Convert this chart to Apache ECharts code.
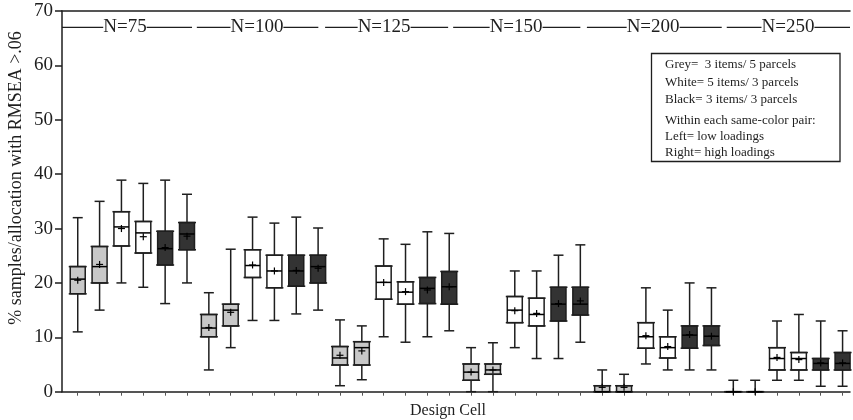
<!DOCTYPE html>
<html><head><meta charset="utf-8">
<script src="https://cdn.jsdelivr.net/npm/echarts@6/dist/echarts.min.js"></script>
<style>html,body{margin:0;padding:0;background:#fff}#c{width:853px;height:420px}</style>
</head><body><div id="c"></div>
<script>
// ---- data ----
const sampleSizes = ['N=75','N=100','N=125','N=150','N=200','N=250'];
const groupLineStart = [0.28, 6.45, 12.32, 18.18, 24.3, 30.7];
const groupLineEnd   = [6.23, 12.01, 17.95, 24.0, 30.47, 36.34];
const groupLabelPos  = [3.16, 9.2, 15.02, 21.06, 27.33, 33.5];
const cellPositions = [1,2,3,4,5,6,7,8,9,10,11,12,13,14,15,16,17,18,19,20,21,22,23,24,25,26,27,28,29,30,31,32,33,34,35,36];
const cellColours = ['grey','grey','white','white','black','black'];
const whiskerLow  = [11,15,20,19.2,16.2,20, 4,8.1,13.1,13.1,14.3,15, 1.1,2.2,10.1,9.1,10.1,11.2, 0,0,8.1,6.1,6.1,9.1, 0,0,5.1,4,4,4, 0,0,2.1,2.1,1,1];
const quartile1   = [18,20,26.8,25.5,23.3,26.1, 10.1,12.1,21,19.1,19.4,20, 4.9,4.9,17,16.1,16.2,16.1, 2.1,3.2,12.7,12.1,13,14.1, 0,0,8,6.2,8,8.5, 0,0,4,4,4,4];
const medians     = [20.7,23,30.3,29.2,26.3,29, 11.7,15,23.2,22.2,22.2,23, 6.2,8.1,20.1,18.3,19,19.3, 3.6,4,15,14.2,16.1,16.1, 0,0,10.1,8.1,10.4,10.2, 0,0,6.1,6.1,5.2,5.2];
const quartile3   = [23,26.7,33.1,31.3,29.5,31.1, 14.2,16.1,26.1,25.1,25.1,25.1, 8.3,9.2,23.1,20.2,21,22.1, 5.1,5.1,17.5,17.2,19.2,19.2, 1.1,1.1,12.7,10.1,12.1,12.1, 0,0,8.1,7.2,6.1,7.2];
const whiskerHigh = [32,35,38.9,38.3,38.9,36.3, 18.2,26.2,32.1,31,32.1,30.1, 13.2,12.1,28.1,27.1,29.4,29.1, 8.1,9,22.2,22.2,25.1,27, 4,3.2,19.1,15,20,19.1, 2.1,2.1,13,14.2,13,11.2];
const means       = [20.5,23.4,30,28.5,26.5,28.6, 11.8,14.6,23.3,22.2,22.3,22.7, 6.7,7.5,20.1,18.4,18.7,19.3, 3.6,4,14.9,14.4,16.2,16.7, 0.8,0.8,10.3,8.3,10.5,10.2, 0,0,6.3,5.9,5.3,5.3];
const legendLines = ['Grey=  3 items/ 5 parcels','White= 5 items/ 3 parcels','Black= 3 items/ 3 parcels','Within each same-color pair:','Left= low loadings','Right= high loadings'];
const yTitle = '% samples/allocation with RMSEA >.06';

// ---- styles ----
const FONT = '"Liberation Serif", "DejaVu Serif", serif';
const INK = '#1e1e1e';
const FILL = {grey:'#c8c8c8', white:'#ffffff', black:'#333333'};

const boxData = cellPositions.map((p, i) => [p, whiskerLow[i], quartile1[i], medians[i], quartile3[i], whiskerHigh[i], means[i]]);
const groupData = sampleSizes.map((s, i) => [groupLineStart[i], groupLineEnd[i], groupLabelPos[i], 67]);

function renderBox(params, api) {
  const i = params.dataIndex;
  const x = api.value(0);
  const pMin = api.coord([x, api.value(1)]);
  const pQ1 = api.coord([x, api.value(2)]);
  const pMed = api.coord([x, api.value(3)]);
  const pQ3 = api.coord([x, api.value(4)]);
  const pMax = api.coord([x, api.value(5)]);
  const pMean = api.coord([x, api.value(6)]);
  const cx = pMin[0];
  const half = 7.5, cap = 5, m = 3.5;
  const fill = FILL[cellColours[i % cellColours.length]];
  const ls = {stroke: INK, lineWidth: 1.5};
  const ch = [];
  ch.push({type:'line', shape:{x1:cx,y1:pMax[1],x2:cx,y2:pQ3[1]}, style:ls});
  ch.push({type:'line', shape:{x1:cx,y1:pQ1[1],x2:cx,y2:pMin[1]}, style:ls});
  ch.push({type:'line', shape:{x1:cx-cap,y1:pMax[1],x2:cx+cap,y2:pMax[1]}, style:ls});
  ch.push({type:'line', shape:{x1:cx-cap,y1:pMin[1],x2:cx+cap,y2:pMin[1]}, style:ls});
  ch.push({type:'rect', shape:{x:cx-half, y:pQ3[1], width:2*half, height:pQ1[1]-pQ3[1]}, style:{fill:fill, stroke:INK, lineWidth:1.5}});
  ch.push({type:'line', shape:{x1:cx-half-1.5,y1:pQ1[1],x2:cx+half+1.5,y2:pQ1[1]}, style:ls});
  ch.push({type:'line', shape:{x1:cx-half-1.5,y1:pQ3[1],x2:cx+half+1.5,y2:pQ3[1]}, style:ls});
  ch.push({type:'line', shape:{x1:cx-half,y1:pMed[1],x2:cx+half,y2:pMed[1]}, style:{stroke:'#000', lineWidth:1.5}});
  ch.push({type:'line', shape:{x1:cx-m,y1:pMean[1],x2:cx+m,y2:pMean[1]}, style:{stroke:'#000', lineWidth:1.2}});
  ch.push({type:'line', shape:{x1:cx,y1:pMean[1]-m,x2:cx,y2:pMean[1]+m}, style:{stroke:'#000', lineWidth:1.2}});
  return {type:'group', children: ch};
}

function renderGroup(params, api) {
  const i = params.dataIndex;
  const a = api.coord([api.value(0), api.value(3)]);
  const b = api.coord([api.value(1), api.value(3)]);
  const t = api.coord([api.value(2), api.value(3)]);
  return {type:'group', children:[
    {type:'line', shape:{x1:a[0],y1:a[1],x2:b[0],y2:b[1]}, style:{stroke:INK, lineWidth:1.3}},
    {type:'text', x:t[0], y:t[1], style:{text:sampleSizes[i], font:'19px ' + FONT, fill:INK, align:'center', verticalAlign:'middle', backgroundColor:'#fff', padding:[0,0]}}
  ]};
}

const chart = echarts.init(document.getElementById('c'), null, {renderer:'canvas'});
const legendX = 665;
const legendYs = [65, 82.7, 100, 121, 136.7, 152.4];
chart.setOption({
  animation:false,
  backgroundColor:'#fff',
  grid:{left:62, right:3, top:11, bottom:28.3, containLabel:false, outerBoundsMode:'none'},
  xAxis:[{
    type:'value', min:0.28, max:36.34, position:'bottom',
    axisLine:{show:true, onZero:false, lineStyle:{color:INK, width:1.5}},
    axisTick:{show:true, customValues:cellPositions, length:4, lineStyle:{color:'#555', width:1}},
    axisLabel:{show:false}, splitLine:{show:false},
    name:'Design Cell', nameLocation:'middle', nameGap:11,
    nameTextStyle:{fontFamily:FONT, fontSize:16, color:INK, padding:[0,16,0,0]}
  },{
    type:'value', min:0.28, max:36.34, position:'top',
    axisLine:{show:true, onZero:false, lineStyle:{color:INK, width:1.5}},
    axisTick:{show:false}, axisLabel:{show:false}, splitLine:{show:false}
  }],
  yAxis:{
    type:'value', min:0, max:70, interval:10,
    axisLine:{show:true, lineStyle:{color:INK, width:1.5}},
    axisTick:{show:true, length:7, lineStyle:{color:INK, width:1.5}},
    axisLabel:{fontFamily:FONT, fontSize:19, color:INK, margin:9},
    splitLine:{show:false}
  },
  series:[
    {type:'custom', name:'boxes', renderItem:renderBox, data:boxData, clip:false, encode:{x:0, y:[1,2,3,4,5,6]}},
    {type:'custom', name:'groups', renderItem:renderGroup, data:groupData, clip:false, encode:{x:[0,1,2], y:3}}
  ],
  graphic:[
    {type:'text', x:16, y:178, rotation:Math.PI/2,
     style:{text:yTitle, font:'18px ' + FONT, fill:INK, align:'center', verticalAlign:'middle'}},
    {type:'rect', shape:{x:651.5, y:53.5, width:188.5, height:108}, style:{fill:'#fff', stroke:INK, lineWidth:1.3}},
    ...legendLines.map((t, k) => ({type:'text', x:legendX, y:legendYs[k],
      style:{text:t, font:'13px ' + FONT, fill:INK, align:'left', verticalAlign:'middle'}}))
  ]
});
</script></body></html>
